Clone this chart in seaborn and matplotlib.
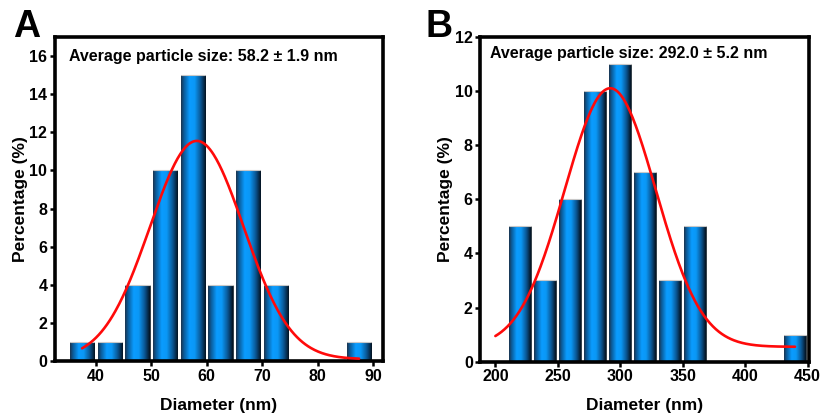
import numpy as np
import seaborn as sns
import matplotlib.pyplot as plt
from matplotlib.colors import LinearSegmentedColormap

sns.set_style('ticks')
plt.rcParams['font.family'] = ['Liberation Sans', 'DejaVu Sans']
plt.rcParams['font.weight'] = 'bold'
plt.rcParams['text.color'] = 'black'
plt.rcParams['axes.labelcolor'] = 'black'
plt.rcParams['xtick.color'] = 'black'
plt.rcParams['ytick.color'] = 'black'
plt.rcParams['axes.edgecolor'] = 'black'

# panel A: histogram (bin centres, bin width 5 nm)
a_centers = [37.5, 42.5, 47.5, 52.5, 57.5, 62.5, 67.5, 72.5, 77.5, 82.5, 87.5]
a_values = [1, 1, 4, 10, 15, 4, 10, 4, 0, 0, 1]
a_edges = [35, 40, 45, 50, 55, 60, 65, 70, 75, 80, 85, 90]
# gaussian fit: offset, amplitude, centre, sigma
a_fit = [0.1, 11.45, 58.2, 8.45]
a_fit_range = [37.5, 87.5]
a_text = 'Average particle size: 58.2 ± 1.9 nm'

# panel B: histogram (bin width 20 nm)
b_centers = [220, 240, 260, 280, 300, 320, 340, 360, 380, 400, 420, 440]
b_values = [5, 3, 6, 10, 11, 7, 3, 5, 0, 0, 0, 1]
b_edges = [210, 230, 250, 270, 290, 310, 330, 350, 370, 390, 410, 430, 450]
b_fit = [0.55, 9.55, 292.0, 36.5]
b_fit_range = [200, 440]
b_text = 'Average particle size: 292.0 ± 5.2 nm'

# cylinder-like shading of the bars
shade = LinearSegmentedColormap.from_list('bar', [
    (0.0, '#1b3550'), (0.12, '#0b5d9c'), (0.35, '#0a9cff'),
    (0.55, '#0a98f6'), (0.8, '#0a5592'), (1.0, '#041322')])
grad = np.linspace(0, 1, 64).reshape(1, -1)


def panel(ax, centers, values, edges, fit, fit_range, text, xlim, ylim, xticks, yticks, tx, ty):
    sns.histplot(x=centers, weights=values, bins=edges, shrink=0.88, ax=ax,
                 color='#0a98f8', edgecolor='#2a2a2a', linewidth=0.6, alpha=1)
    for p in list(ax.patches):
        h = p.get_height()
        if h <= 0:
            continue
        x0 = p.get_x()
        w = p.get_width()
        im = ax.imshow(grad, cmap=shade, aspect='auto', extent=(x0, x0 + w, 0, h),
                       zorder=p.get_zorder() + 0.1)
        im.set_clip_path(p)
        ax.plot([x0, x0 + w], [h, h], color='#c8c8c8', lw=0.8, zorder=p.get_zorder() + 0.2)
    xs = np.linspace(fit_range[0], fit_range[1], 300)
    ys = fit[0] + fit[1] * np.exp(-(xs - fit[2]) ** 2 / (2 * fit[3] ** 2))
    sns.lineplot(x=xs, y=ys, ax=ax, color='#ff0a0a', lw=1.9, zorder=5)
    ax.set_xlim(xlim)
    ax.set_ylim(ylim)
    ax.set_xticks(xticks)
    ax.set_yticks(yticks)
    ax.tick_params(direction='out', length=3.5, width=1.8, labelsize=11.5, pad=2)
    for s in ax.spines.values():
        s.set_linewidth(2.6)
        s.set_visible(True)
    ax.set_xlabel('Diameter (nm)', fontsize=12.5, fontweight='bold', labelpad=10)
    ax.set_ylabel('Percentage (%)', fontsize=12.5, fontweight='bold', labelpad=1)
    ax.text(tx, ty, text, transform=ax.transAxes, fontsize=11.5, fontweight='bold',
            va='center', ha='left')


fig = plt.figure(figsize=(8.24, 4.16), dpi=100)
ax1 = fig.add_axes([0.0667, 0.132, 0.398, 0.779])
ax2 = fig.add_axes([0.583, 0.1305, 0.3985, 0.781])

panel(ax1, a_centers, a_values, a_edges, a_fit, a_fit_range, a_text,
      (32.6, 91.8), (0, 17), range(40, 91, 10), range(0, 17, 2), 0.043, 0.941)
panel(ax2, b_centers, b_values, b_edges, b_fit, b_fit_range, b_text,
      (188, 451), (0, 12), range(200, 451, 50), range(0, 13, 2), 0.030, 0.949)

fig.text(0.016, 0.935, 'A', fontsize=27, fontweight='bold', va='center', ha='left')
fig.text(0.516, 0.935, 'B', fontsize=27, fontweight='bold', va='center', ha='left')

plt.savefig('out.png', dpi=100)
